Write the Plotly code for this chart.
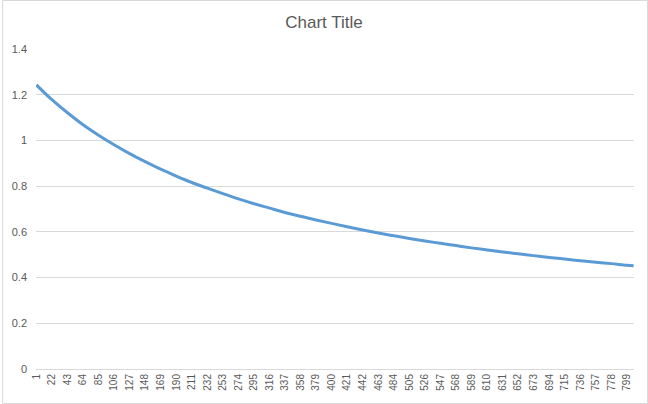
import plotly.graph_objects as go

# Valores (categoria -> valor)
categorias = [1, 22, 43, 64, 85, 106, 127, 148, 169, 190, 211, 232, 253, 274,
              295, 316, 337, 358, 379, 400, 421, 442, 463, 484, 505, 526, 547,
              568, 589, 610, 631, 652, 673, 694, 715, 736, 757, 778, 799, 808]
valores = [1.243, 1.178, 1.121, 1.069, 1.023, 0.981, 0.942, 0.907, 0.874,
           0.844, 0.816, 0.791, 0.767, 0.744, 0.723, 0.704, 0.685, 0.668,
           0.652, 0.637, 0.622, 0.608, 0.595, 0.583, 0.571, 0.560, 0.550,
           0.540, 0.530, 0.521, 0.512, 0.504, 0.496, 0.488, 0.481, 0.474,
           0.467, 0.461, 0.454, 0.452]

# Rótulos do eixo x (de 21 em 21)
rotulos_x = [1, 22, 43, 64, 85, 106, 127, 148, 169, 190, 211, 232, 253, 274,
             295, 316, 337, 358, 379, 400, 421, 442, 463, 484, 505, 526, 547,
             568, 589, 610, 631, 652, 673, 694, 715, 736, 757, 778, 799]
ticks_y = [0, 0.2, 0.4, 0.6, 0.8, 1, 1.2, 1.4]

cinza_texto = "#595959"
cinza_grade = "#D9D9D9"
fonte = "Liberation Sans, Arial, sans-serif"

fig = go.Figure()
fig.add_trace(
    go.Scatter(
        x=categorias,
        y=valores,
        mode="lines",
        line=dict(color="#5B9BD5", width=3, shape="spline"),
        showlegend=False,
        hoverinfo="skip",
    )
)

fig.update_layout(
    width=648,
    height=404,
    margin=dict(l=34, r=14, t=49, b=35),
    paper_bgcolor="white",
    plot_bgcolor="white",
    font=dict(family=fonte, color=cinza_texto, size=11),
    title=dict(
        text="Chart Title",
        x=0.5,
        xanchor="center",
        y=1 - 22 / 404,
        yanchor="middle",
        font=dict(size=17, color=cinza_texto, family=fonte),
    ),
)

fig.update_xaxes(
    range=[0.5, 808.5],
    tickmode="array",
    tickvals=rotulos_x,
    ticktext=[str(v) for v in rotulos_x],
    tickangle=-90,
    tickfont=dict(size=10, color=cinza_texto),
    showgrid=False,
    showline=True,
    linecolor=cinza_grade,
    linewidth=1,
    zeroline=False,
    ticks="",
)

fig.update_yaxes(
    range=[0, 1.4],
    tickmode="array",
    tickvals=ticks_y,
    ticktext=[f"{v:g}" for v in ticks_y],
    tickfont=dict(size=11, color=cinza_texto),
    showgrid=True,
    gridcolor=cinza_grade,
    gridwidth=1,
    zeroline=False,
    showline=False,
    ticks="",
    ticklen=0,
    ticklabelstandoff=8,
)

# Borda da área do gráfico (estilo Excel)
fig.add_shape(
    type="rect",
    xref="paper",
    yref="paper",
    x0=(0.5 - 34) / 600,
    x1=(647.5 - 34) / 600,
    y0=(369 - 403.5) / 320,
    y1=(369 - 0.5) / 320,
    line=dict(color=cinza_grade, width=1),
    layer="below",
)

# Tirar a margem padrão do body para o gráfico ficar em (0, 0)
fig.write_html(
    "out.html",
    config={"displayModeBar": False},
    post_script="document.body.style.margin='0';document.body.style.overflow='hidden';",
)
